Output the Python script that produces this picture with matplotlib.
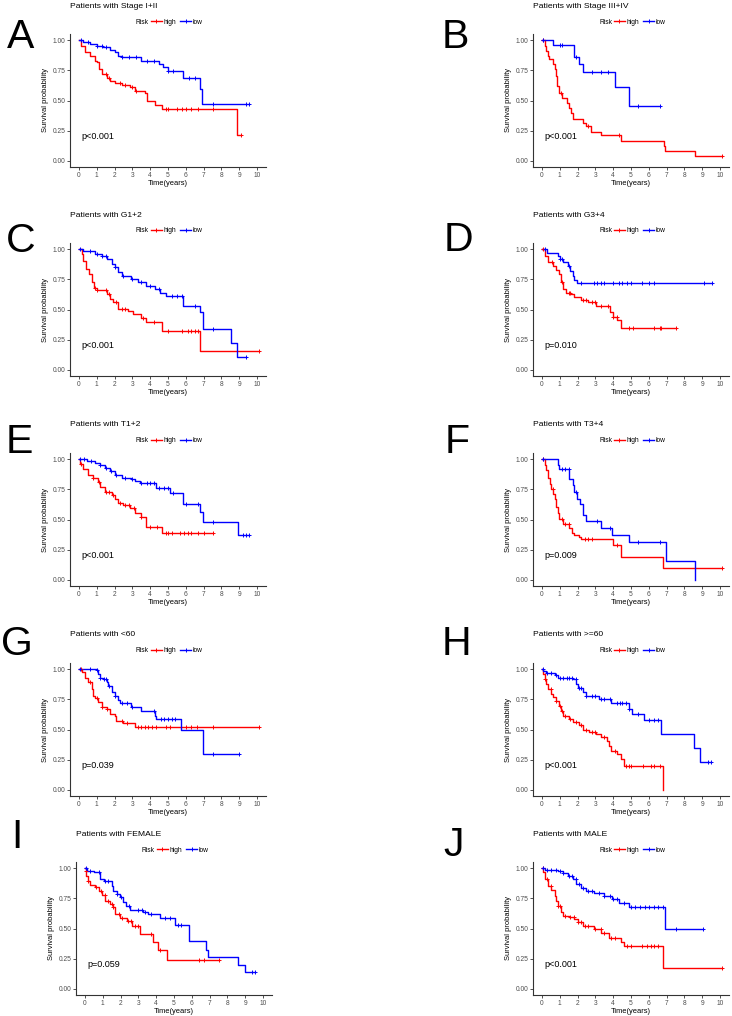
import numpy as np
import matplotlib
matplotlib.use("Agg")
import matplotlib.pyplot as plt
from matplotlib.lines import Line2D

plt.rcParams['font.family'] = ['Liberation Sans', 'DejaVu Sans']

############
### DATA ###
############
letters = ['A', 'B', 'C', 'D', 'E', 'F', 'G', 'H', 'I', 'J']
titles = ['Patients with Stage I+II', 'Patients with Stage III+IV',
          'Patients with G1+2', 'Patients with G3+4',
          'Patients with T1+2', 'Patients with T3+4',
          'Patients with <60', 'Patients with >=60',
          'Patients with FEMALE', 'Patients with MALE']
pvals = ['p<0.001', 'p<0.001', 'p<0.001', 'p=0.010', 'p<0.001',
         'p=0.009', 'p=0.039', 'p<0.001', 'p=0.059', 'p<0.001']
x_ticks = [0, 1, 2, 3, 4, 5, 6, 7, 8, 9, 10]
y_ticks = [0.00, 0.25, 0.50, 0.75, 1.00]

# A
a_high_t = [0, 0.1, 0.34, 0.62, 0.9, 1.02, 1.14, 1.27, 1.55, 1.73, 2.0, 2.4, 2.85, 3.13, 3.73, 3.84, 4.25, 4.66, 8.9, 9.1]
a_high_s = [1.0, 0.953, 0.90, 0.865, 0.83, 0.815, 0.76, 0.72, 0.69, 0.66, 0.645, 0.627, 0.61, 0.58, 0.566, 0.497, 0.464, 0.43, 0.215, 0.215]
a_high_cens = [1.5, 1.7, 2.3, 2.6, 3.0, 3.2, 4.9, 5.0, 5.5, 5.8, 6.0, 6.3, 6.7, 7.5, 9.1]
a_low_t = [0, 0.24, 0.62, 1.0, 1.36, 1.73, 2.0, 2.2, 2.4, 3.5, 4.5, 4.72, 5.0, 5.84, 6.81, 6.92, 9.55]
a_low_s = [1.0, 0.98, 0.967, 0.953, 0.94, 0.92, 0.9, 0.87, 0.856, 0.83, 0.80, 0.774, 0.74, 0.685, 0.594, 0.47, 0.47]
a_low_cens = [0.1, 0.5, 1.0, 1.3, 1.5, 2.4, 2.8, 3.2, 3.8, 4.2, 5.0, 5.3, 6.2, 6.5, 7.5, 9.4, 9.55]

# B
b_high_t = [0, 0.15, 0.24, 0.33, 0.39, 0.61, 0.71, 0.8, 0.86, 0.95, 1.13, 1.41, 1.5, 1.61, 1.73, 2.29, 2.5, 2.73, 3.31, 4.42, 6.84, 6.93, 8.57, 10.1]
b_high_s = [1.0, 0.953, 0.91, 0.87, 0.84, 0.80, 0.76, 0.704, 0.62, 0.56, 0.517, 0.483, 0.434, 0.395, 0.345, 0.318, 0.29, 0.243, 0.213, 0.166, 0.124, 0.083, 0.041, 0.041]
b_high_cens = [0.05, 1.05, 2.6, 4.3, 10.1]
b_low_t = [0, 0.6, 1.8, 2.1, 2.3, 4.1, 4.9, 6.6]
b_low_s = [1.0, 0.961, 0.862, 0.80, 0.738, 0.613, 0.456, 0.456]
b_low_cens = [0.05, 1.0, 1.15, 1.9, 2.8, 3.3, 3.7, 5.4, 6.6]

# C
c_high_t = [0, 0.15, 0.24, 0.39, 0.58, 0.71, 0.84, 1.0, 1.55, 1.73, 1.92, 2.2, 2.76, 3.04, 3.5, 3.79, 4.66, 6.8, 10.1]
c_high_s = [1.0, 0.96, 0.90, 0.835, 0.79, 0.73, 0.68, 0.66, 0.63, 0.586, 0.56, 0.504, 0.49, 0.46, 0.43, 0.394, 0.32, 0.16, 0.16]
c_high_cens = [0.9, 1.0, 1.5, 1.7, 2.1, 2.4, 2.6, 3.6, 4.2, 5.0, 5.8, 6.1, 6.3, 6.5, 6.7, 10.1]
c_low_t = [0, 0.24, 0.9, 1.27, 1.55, 1.83, 2.0, 2.2, 2.44, 2.95, 3.32, 3.79, 4.25, 4.53, 4.9, 5.84, 6.77, 6.96, 8.54, 8.9, 9.4]
c_low_s = [1.0, 0.98, 0.96, 0.94, 0.917, 0.876, 0.85, 0.807, 0.78, 0.75, 0.725, 0.697, 0.67, 0.64, 0.614, 0.53, 0.477, 0.34, 0.223, 0.11, 0.11]
c_low_cens = [0.05, 0.6, 1.0, 1.3, 1.5, 2.0, 2.5, 3.0, 3.5, 4.0, 4.5, 5.2, 5.5, 5.8, 6.5, 7.5, 9.4]

# D
d_high_t = [0, 0.15, 0.33, 0.61, 0.8, 0.95, 1.08, 1.2, 1.36, 1.64, 1.82, 2.19, 2.57, 3.03, 3.81, 4.0, 4.24, 4.42, 7.55]
d_high_s = [1.0, 0.945, 0.89, 0.86, 0.826, 0.79, 0.73, 0.67, 0.64, 0.63, 0.60, 0.58, 0.56, 0.53, 0.477, 0.435, 0.413, 0.347, 0.347]
d_high_cens = [0.05, 0.55, 1.1, 1.5, 1.6, 2.3, 2.5, 2.8, 3.0, 3.3, 3.7, 4.0, 4.2, 4.9, 5.1, 6.3, 6.6, 6.7, 7.55]
d_low_t = [0, 0.3, 0.9, 0.99, 1.17, 1.45, 1.58, 1.73, 1.82, 1.95, 9.55]
d_low_s = [1.0, 0.964, 0.94, 0.917, 0.89, 0.86, 0.82, 0.78, 0.744, 0.716, 0.716]
d_low_cens = [0.2, 1.0, 1.1, 1.5, 2.2, 2.9, 3.1, 3.3, 3.5, 4.0, 4.3, 4.5, 4.8, 5.0, 5.6, 6.0, 6.3, 9.1, 9.55]

# E
e_high_t = [0, 0.05, 0.24, 0.52, 0.8, 1.08, 1.17, 1.46, 1.83, 2.0, 2.2, 2.48, 2.85, 3.13, 3.5, 3.79, 4.66, 7.55]
e_high_s = [1.0, 0.96, 0.92, 0.87, 0.84, 0.81, 0.77, 0.73, 0.70, 0.67, 0.637, 0.618, 0.596, 0.55, 0.52, 0.44, 0.385, 0.385]
e_high_cens = [0.1, 0.8, 1.1, 1.5, 1.7, 1.9, 2.3, 2.6, 2.8, 3.1, 3.5, 4.0, 4.4, 4.9, 5.0, 5.2, 5.7, 5.9, 6.1, 6.3, 6.7, 7.0, 7.55]
e_low_t = [0, 0.43, 0.9, 1.17, 1.46, 1.73, 2.0, 2.4, 2.95, 3.13, 3.41, 4.35, 5.1, 5.84, 6.77, 6.96, 8.95, 9.55]
e_low_s = [1.0, 0.98, 0.97, 0.948, 0.926, 0.90, 0.87, 0.846, 0.832, 0.816, 0.80, 0.76, 0.72, 0.63, 0.563, 0.48, 0.368, 0.368]
e_low_cens = [0.05, 0.3, 0.7, 1.2, 1.5, 1.8, 2.1, 2.6, 3.0, 3.5, 3.8, 4.0, 4.2, 4.5, 4.8, 5.0, 5.3, 6.0, 6.7, 7.5, 9.2, 9.4, 9.55]

# F
f_high_t = [0, 0.15, 0.24, 0.33, 0.43, 0.52, 0.61, 0.71, 0.8, 0.89, 0.98, 1.17, 1.54, 1.69, 1.82, 2.1, 2.19, 4.0, 4.44, 6.8, 10.1]
f_high_s = [1.0, 0.95, 0.907, 0.843, 0.79, 0.755, 0.714, 0.673, 0.604, 0.55, 0.508, 0.459, 0.426, 0.385, 0.37, 0.357, 0.335, 0.288, 0.192, 0.096, 0.096]
f_high_cens = [0.05, 0.6, 1.1, 1.3, 1.5, 2.4, 2.6, 2.8, 4.2, 10.1]
f_low_t = [0, 0.89, 0.98, 1.54, 1.73, 1.82, 1.97, 2.14, 2.29, 2.5, 3.3, 3.92, 4.89, 6.97, 8.57]
f_low_s = [1.0, 0.95, 0.92, 0.838, 0.783, 0.728, 0.673, 0.626, 0.536, 0.486, 0.43, 0.37, 0.31, 0.16, 0.0]
f_low_cens = [0.05, 1.1, 1.3, 1.5, 1.9, 3.1, 3.8, 5.4, 6.6]

# G
g_high_t = [0, 0.15, 0.34, 0.52, 0.71, 0.8, 0.9, 1.08, 1.27, 1.55, 1.73, 2.0, 2.1, 2.48, 3.13, 10.1]
g_high_s = [1.0, 0.972, 0.93, 0.89, 0.834, 0.78, 0.757, 0.724, 0.682, 0.67, 0.627, 0.608, 0.572, 0.55, 0.518, 0.518]
g_high_cens = [0.1, 0.6, 1.0, 1.3, 1.6, 2.4, 2.7, 3.3, 3.5, 3.7, 3.9, 4.1, 4.3, 4.9, 5.1, 6.0, 6.3, 6.6, 7.5, 10.1]
g_low_t = [0, 1.0, 1.08, 1.17, 1.36, 1.55, 1.64, 1.83, 2.0, 2.2, 2.3, 2.95, 3.5, 4.25, 4.35, 5.75, 6.96, 9.0]
g_low_s = [1.0, 0.99, 0.96, 0.93, 0.917, 0.895, 0.86, 0.81, 0.78, 0.746, 0.718, 0.682, 0.655, 0.613, 0.586, 0.497, 0.30, 0.30]
g_low_cens = [0.05, 0.6, 1.0, 1.2, 1.4, 1.5, 1.7, 2.0, 2.4, 2.7, 3.0, 4.2, 4.6, 4.8, 5.0, 5.2, 5.4, 7.5, 9.0]

# H
h_high_t = [0, 0.06, 0.15, 0.24, 0.33, 0.52, 0.61, 0.8, 0.98, 1.08, 1.17, 1.54, 1.73, 2.1, 2.29, 2.66, 3.03, 3.31, 3.68, 3.77, 3.87, 4.24, 4.42, 4.61, 6.8]
h_high_s = [1.0, 0.958, 0.917, 0.876, 0.834, 0.793, 0.765, 0.732, 0.696, 0.655, 0.613, 0.59, 0.564, 0.536, 0.50, 0.48, 0.46, 0.434, 0.406, 0.365, 0.323, 0.296, 0.254, 0.20, 0.0]
h_high_cens = [0.2, 0.5, 0.8, 1.0, 1.1, 1.3, 1.6, 1.9, 2.2, 2.5, 2.8, 3.0, 3.5, 4.1, 4.7, 4.9, 5.0, 5.7, 6.1, 6.3, 6.6]
h_low_t = [0, 0.06, 0.24, 0.71, 0.89, 1.73, 1.91, 2.0, 2.29, 2.47, 3.22, 3.87, 4.89, 5.07, 5.72, 6.71, 8.55, 8.88, 9.5]
h_low_s = [1.0, 0.986, 0.967, 0.95, 0.93, 0.917, 0.876, 0.84, 0.807, 0.78, 0.75, 0.718, 0.67, 0.627, 0.58, 0.46, 0.345, 0.232, 0.232]
h_low_cens = [0.05, 0.3, 0.5, 0.8, 1.0, 1.2, 1.4, 1.5, 1.7, 1.9, 2.1, 2.2, 2.5, 2.8, 3.0, 3.3, 3.5, 3.8, 4.2, 4.4, 4.5, 4.7, 4.9, 5.4, 6.0, 6.3, 6.5, 9.3, 9.5]

# I
i_high_t = [0, 0.04, 0.07, 0.15, 0.3, 0.58, 0.77, 0.95, 1.14, 1.42, 1.6, 1.7, 1.98, 2.35, 2.63, 2.91, 3.1, 3.84, 4.12, 4.59, 7.55]
i_high_s = [1.0, 0.978, 0.937, 0.895, 0.86, 0.84, 0.813, 0.777, 0.73, 0.70, 0.675, 0.62, 0.59, 0.565, 0.523, 0.518, 0.455, 0.39, 0.325, 0.242, 0.242]
i_high_cens = [0.05, 0.2, 0.6, 0.9, 1.1, 1.3, 1.5, 1.6, 1.9, 2.1, 2.4, 2.6, 2.8, 3.0, 3.7, 4.2, 6.4, 6.7, 7.55]
i_low_t = [0, 0.11, 0.5, 0.86, 1.05, 1.51, 1.6, 1.79, 1.98, 2.16, 2.31, 2.54, 3.28, 3.56, 4.22, 5.06, 5.86, 6.79, 6.92, 8.6, 8.97, 9.55]
i_low_s = [1.0, 0.978, 0.965, 0.91, 0.895, 0.854, 0.813, 0.785, 0.758, 0.716, 0.683, 0.656, 0.634, 0.62, 0.587, 0.53, 0.394, 0.325, 0.267, 0.2, 0.138, 0.138]
i_low_cens = [0.05, 0.3, 0.8, 1.1, 1.3, 1.8, 2.0, 2.5, 3.0, 3.2, 3.4, 3.7, 4.5, 4.8, 5.2, 5.4, 9.4, 9.55]

# J
j_high_t = [0, 0.06, 0.15, 0.33, 0.52, 0.71, 0.8, 0.89, 1.08, 1.17, 1.54, 1.82, 2.0, 2.29, 2.94, 3.31, 3.77, 4.42, 4.61, 6.8, 10.1]
j_high_s = [1.0, 0.964, 0.91, 0.854, 0.82, 0.77, 0.73, 0.69, 0.634, 0.606, 0.592, 0.578, 0.55, 0.518, 0.496, 0.463, 0.419, 0.386, 0.358, 0.174, 0.174]
j_high_cens = [0.05, 0.3, 0.5, 0.9, 1.0, 1.3, 1.6, 1.8, 2.0, 2.2, 2.4, 2.6, 3.0, 3.3, 3.5, 3.9, 4.1, 4.8, 5.0, 5.6, 5.9, 6.1, 6.3, 6.5, 10.1]
j_low_t = [0, 0.15, 0.89, 1.17, 1.45, 1.73, 1.91, 2.19, 2.47, 2.94, 3.49, 3.96, 4.33, 4.89, 6.93, 9.05]
j_low_s = [1.0, 0.986, 0.978, 0.958, 0.937, 0.909, 0.868, 0.832, 0.813, 0.79, 0.766, 0.744, 0.71, 0.675, 0.5, 0.5]
j_low_cens = [0.05, 0.3, 0.5, 0.8, 1.0, 1.2, 1.5, 1.7, 1.9, 2.1, 2.3, 2.6, 2.8, 3.2, 3.5, 3.8, 4.0, 4.2, 4.6, 5.0, 5.2, 5.5, 5.8, 6.0, 6.3, 6.5, 6.8, 7.5, 9.05]

curves = [
    (a_high_t, a_high_s, a_high_cens, a_low_t, a_low_s, a_low_cens),
    (b_high_t, b_high_s, b_high_cens, b_low_t, b_low_s, b_low_cens),
    (c_high_t, c_high_s, c_high_cens, c_low_t, c_low_s, c_low_cens),
    (d_high_t, d_high_s, d_high_cens, d_low_t, d_low_s, d_low_cens),
    (e_high_t, e_high_s, e_high_cens, e_low_t, e_low_s, e_low_cens),
    (f_high_t, f_high_s, f_high_cens, f_low_t, f_low_s, f_low_cens),
    (g_high_t, g_high_s, g_high_cens, g_low_t, g_low_s, g_low_cens),
    (h_high_t, h_high_s, h_high_cens, h_low_t, h_low_s, h_low_cens),
    (i_high_t, i_high_s, i_high_cens, i_low_t, i_low_s, i_low_cens),
    (j_high_t, j_high_s, j_high_cens, j_low_t, j_low_s, j_low_cens),
]

##############
### LAYOUT ###
##############
W, H = 732, 1016
ax_w, ax_h = 196, 133
ax_left = [70, 533, 70, 533, 70, 533, 70, 533, 76, 533]
ax_top = [34, 34, 243, 243, 453, 453, 663, 663, 862, 862]
letter_x = [7, 442, 6, 444, 6, 445, 1, 442, 11, 443]
letter_y = [37, 37, 241, 240, 442, 442, 644, 644, 837, 845]

HIGH = '#FF0000'
LOW = '#0000FF'


def fx(px):
    return px / W


def fy(py):
    return 1 - py / H


def surv_at(t, s, c):
    # survival value of the step curve at each censor time
    idx = np.searchsorted(t, c, side='right') - 1
    return np.array(s)[idx]


fig = plt.figure(figsize=(W / 100, H / 100), dpi=100)

for k in range(10):
    left = ax_left[k]
    top = ax_top[k]
    ax = fig.add_axes([fx(left), fy(top + ax_h), ax_w / W, ax_h / H])
    ht, hs, hc, lt, ls, lc = curves[k]

    ax.step(ht, hs, where='post', color=HIGH, lw=1.0, zorder=3)
    ax.step(lt, ls, where='post', color=LOW, lw=1.0, zorder=3)
    ax.plot(hc, surv_at(ht, hs, hc), ls='', marker='+', color=HIGH, ms=3, mew=0.7, zorder=4)
    ax.plot(lc, surv_at(lt, ls, lc), ls='', marker='+', color=LOW, ms=3, mew=0.7, zorder=4)

    ax.set_xlim(-0.5, 10.5)
    ax.set_ylim(-0.05, 1.05)
    ax.set_xticks(x_ticks)
    ax.set_yticks(y_ticks)
    ax.set_yticklabels(['%.2f' % v for v in y_ticks])
    for side in ['top', 'right']:
        ax.spines[side].set_visible(False)
    for side in ['left', 'bottom']:
        ax.spines[side].set_linewidth(0.8)
        ax.spines[side].set_color('#333333')
    ax.tick_params(labelsize=4.8, labelcolor='#4D4D4D', color='#333333',
                   length=2, width=0.6, pad=1.5)
    ax.set_xlabel('Time(years)', fontsize=5.4, labelpad=1)
    ax.set_ylabel('Survival probability', fontsize=5.4, labelpad=2)

    ax.text(0.15, 0.2, pvals[k], fontsize=6.5, ha='left', va='center')

    # title, legend, panel letter
    fig.text(fx(left), fy(top - 28), titles[k], fontsize=6.1, ha='left', va='center')
    fig.text(fx(left + 79), fy(top - 12), 'Risk', fontsize=4.8, ha='right', va='center')
    handles = [Line2D([0], [0], color=HIGH, lw=1.0, marker='+', ms=3, mew=0.7),
               Line2D([0], [0], color=LOW, lw=1.0, marker='+', ms=3, mew=0.7)]
    fig.legend(handles, ['high', 'low'], loc='center left',
               bbox_to_anchor=(fx(left + 81), fy(top - 12)), bbox_transform=fig.transFigure,
               ncol=2, frameon=False, fontsize=4.8, handlelength=1.6,
               handletextpad=0.3, columnspacing=0.6, borderpad=0, borderaxespad=0)
    fig.text(fx(letter_x[k]), fy(letter_y[k]), letters[k], fontsize=29.5,
             ha='left', va='center')

fig.savefig('out.png', dpi=100)
